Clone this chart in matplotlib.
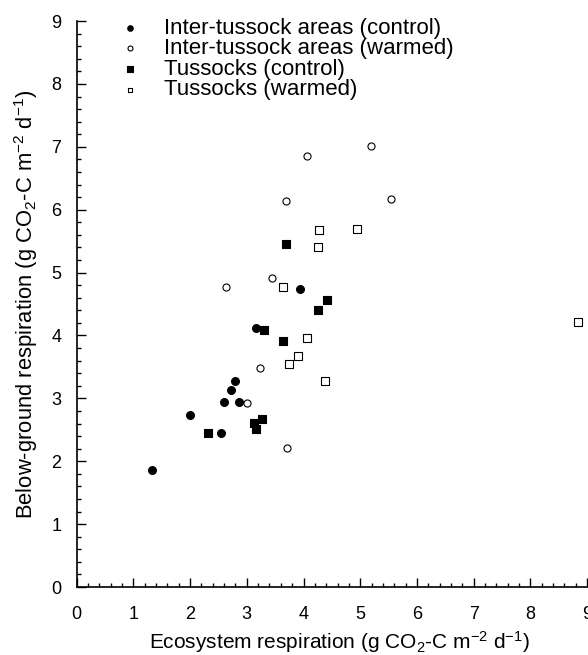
import matplotlib
matplotlib.use("Agg")
import matplotlib.pyplot as plt
from matplotlib.ticker import MultipleLocator

plt.rcParams['font.family'] = ['Liberation Sans', 'DejaVu Sans']
plt.rcParams['mathtext.default'] = 'regular'

# Inter-tussock areas (control)
inter_ctrl_x = [1.32, 1.99, 2.54, 2.60, 2.72, 2.80, 2.86, 3.17, 3.94]
inter_ctrl_y = [1.86, 2.73, 2.45, 2.95, 3.13, 3.28, 2.95, 4.12, 4.74]

# Inter-tussock areas (warmed)
inter_warm_x = [5.19, 4.07, 3.69, 5.54, 3.45, 2.64, 3.23, 3.00, 3.71]
inter_warm_y = [7.01, 6.85, 6.14, 6.17, 4.91, 4.77, 3.48, 2.92, 2.21]

# Tussocks (control)
tus_ctrl_x = [3.70, 4.42, 4.26, 3.30, 3.64, 2.32, 3.26, 3.12, 3.17]
tus_ctrl_y = [5.45, 4.56, 4.40, 4.09, 3.92, 2.45, 2.67, 2.61, 2.52]

# Tussocks (warmed)
tus_warm_x = [4.28, 4.94, 4.26, 3.64, 8.84, 4.07, 3.91, 3.74, 4.38]
tus_warm_y = [5.67, 5.70, 5.41, 4.77, 4.21, 3.96, 3.68, 3.55, 3.27]

fig = plt.figure(figsize=(5.88, 6.55), dpi=100)
ax = fig.add_axes([0.1304, 0.1038, 0.868, 0.864])

ax.scatter(inter_ctrl_x, inter_ctrl_y, s=32, marker='o', facecolor='black',
           edgecolor='black', linewidth=0.8, label='Inter-tussock areas (control)', clip_on=False)
ax.scatter(inter_warm_x, inter_warm_y, s=26, marker='o', facecolor='white',
           edgecolor='black', linewidth=0.8, label='Inter-tussock areas (warmed)', clip_on=False)
ax.scatter(tus_ctrl_x, tus_ctrl_y, s=28, marker='s', facecolor='black',
           edgecolor='black', linewidth=0.8, label='Tussocks (control)', clip_on=False)
ax.scatter(tus_warm_x, tus_warm_y, s=26, marker='s', facecolor='white',
           edgecolor='black', linewidth=0.8, label='Tussocks (warmed)', clip_on=False)

ax.set_xlim(0, 9)
ax.set_ylim(0, 9)
ax.xaxis.set_major_locator(MultipleLocator(1))
ax.xaxis.set_minor_locator(MultipleLocator(0.2))
ax.yaxis.set_major_locator(MultipleLocator(1))
ax.yaxis.set_minor_locator(MultipleLocator(0.2))
ax.tick_params(which='major', direction='in', length=6.5, width=1, labelsize=13)
ax.tick_params(which='minor', direction='in', length=3, width=1)
ax.tick_params(axis='x', which='major', pad=14)
ax.tick_params(axis='y', which='major', pad=11)
ax.spines['top'].set_visible(False)
ax.spines['right'].set_visible(False)
ax.spines['left'].set_linewidth(1.2)
ax.spines['bottom'].set_linewidth(1.2)

ax.set_xlabel('Ecosystem respiration (g CO$_2$-C m$^{-2}$ d$^{-1}$)', fontsize=15, labelpad=0)
ax.xaxis.set_label_coords(0.514, -0.074)
ax.set_ylabel('Below-ground respiration (g CO$_2$-C m$^{-2}$ d$^{-1}$)', fontsize=15.8, labelpad=8)

ax.legend(loc='upper left', bbox_to_anchor=(0.060, 1.006), frameon=False, fontsize=16,
          markerscale=0.7, labelspacing=-0.02, handlelength=2.0, handletextpad=0.55,
          borderpad=0, borderaxespad=0, scatterpoints=1)

fig.savefig('out.png', dpi=100)
